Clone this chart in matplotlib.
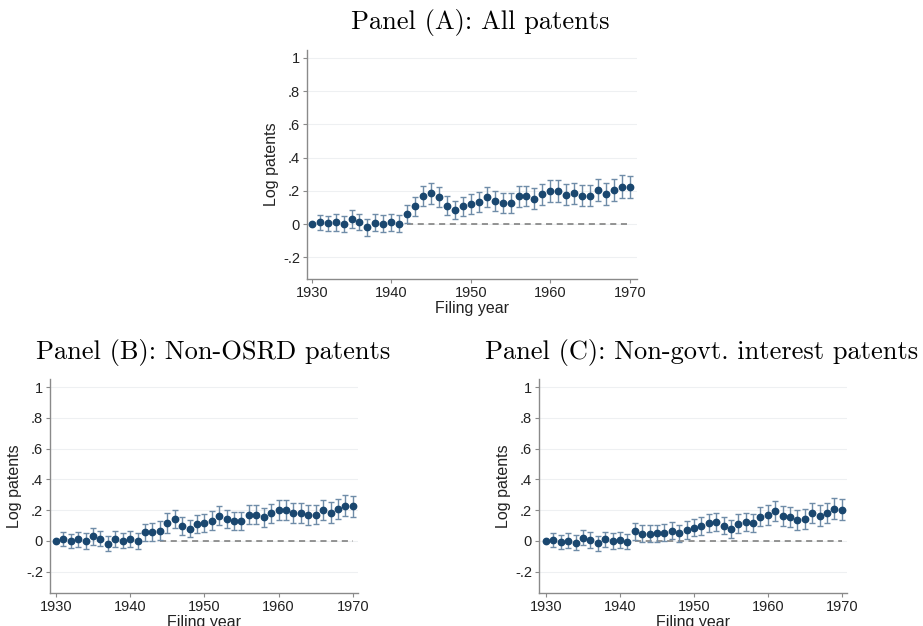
import numpy as np
import matplotlib
matplotlib.use("Agg")
import matplotlib.pyplot as plt

years = np.arange(1930, 1971)

# Panel (A): All patents
coef_a = [0.000, 0.010, 0.005, 0.010, 0.000, 0.032, 0.012, -0.020, 0.008, 0.002,
          0.010, 0.002, 0.060, 0.107, 0.170, 0.185, 0.160, 0.110, 0.085, 0.107,
          0.119, 0.131, 0.163, 0.139, 0.125, 0.129, 0.167, 0.169, 0.151, 0.180,
          0.200, 0.200, 0.177, 0.185, 0.171, 0.171, 0.203, 0.183, 0.205, 0.225,
          0.223]
# Panel (B): Non-OSRD patents
coef_b = [0.000, 0.011, 0.000, 0.011, 0.000, 0.032, 0.015, -0.017, 0.013, 0.002,
          0.013, 0.000, 0.056, 0.056, 0.067, 0.117, 0.143, 0.097, 0.080, 0.110,
          0.117, 0.132, 0.165, 0.143, 0.128, 0.130, 0.169, 0.169, 0.154, 0.180,
          0.200, 0.200, 0.180, 0.184, 0.169, 0.171, 0.203, 0.184, 0.208, 0.229,
          0.225]
# Panel (C): Non-govt. interest patents
coef_c = [0.000, 0.004, -0.009, 0.002, -0.011, 0.022, 0.006, -0.015, 0.011, 0.000,
          0.006, -0.004, 0.063, 0.048, 0.048, 0.050, 0.052, 0.065, 0.050, 0.071,
          0.087, 0.097, 0.117, 0.123, 0.100, 0.078, 0.113, 0.123, 0.117, 0.156,
          0.169, 0.197, 0.162, 0.156, 0.136, 0.143, 0.182, 0.165, 0.182, 0.208,
          0.203]

# half-widths of the confidence intervals
err_a = [0.000, 0.045, 0.045, 0.050, 0.050, 0.055, 0.050, 0.050, 0.050, 0.050,
         0.050, 0.050, 0.056, 0.058, 0.060, 0.064, 0.060, 0.058, 0.055, 0.058,
         0.060, 0.060, 0.062, 0.060, 0.060, 0.060, 0.062, 0.062, 0.063, 0.063,
         0.065, 0.065, 0.064, 0.065, 0.064, 0.064, 0.066, 0.066, 0.066, 0.068,
         0.068]
err_b = err_a
err_c = [0.000, 0.045, 0.045, 0.050, 0.050, 0.050, 0.050, 0.050, 0.050, 0.050,
         0.050, 0.050, 0.055, 0.055, 0.055, 0.055, 0.055, 0.055, 0.055, 0.056,
         0.058, 0.058, 0.060, 0.058, 0.058, 0.058, 0.060, 0.060, 0.060, 0.062,
         0.064, 0.065, 0.064, 0.064, 0.064, 0.064, 0.066, 0.066, 0.066, 0.068,
         0.068]

titles = ["Panel (A): All patents",
          "Panel (B): Non-OSRD patents",
          "Panel (C): Non-govt. interest patents"]
yticks = [-0.2, 0, 0.2, 0.4, 0.6, 0.8, 1]
ytick_labels = ["-.2", "0", ".2", ".4", ".6", ".8", "1"]
xticks = [1930, 1940, 1950, 1960, 1970]

W, H = 923, 626
plt.rcParams["font.family"] = ["Liberation Sans", "DejaVu Sans"]
fig = plt.figure(figsize=(W / 100, H / 100), dpi=100)
fig.patch.set_facecolor("white")


def px_axes(left, top, right, bottom):
    return fig.add_axes([left / W, 1 - bottom / H, (right - left) / W, (bottom - top) / H])


def draw_panel(ax, coef, err, xlim, ylim, dash_start):
    ax.set_xlim(*xlim)
    ax.set_ylim(*ylim)
    for t in yticks:
        ax.axhline(t, color="#eef0f2", lw=0.8, zorder=0)
    ax.plot([dash_start, 1970], [0, 0], ls=(0, (4, 3)), color="#777777", lw=1.1, zorder=1)
    ax.errorbar(years, coef, yerr=err, fmt="none", ecolor="#6f8ca8", elinewidth=1.0,
                capsize=2.5, capthick=1.0, zorder=2)
    ax.plot(years, coef, "o", color="#1a476f", ms=4.6, zorder=3)
    ax.set_yticks(yticks)
    ax.set_yticklabels(ytick_labels)
    ax.set_xticks(xticks)
    for s in ["top", "right"]:
        ax.spines[s].set_visible(False)
    for s in ["left", "bottom"]:
        ax.spines[s].set_color("#8a8a8a")
        ax.spines[s].set_linewidth(1.0)
    ax.tick_params(axis="both", colors="#8a8a8a", labelcolor="#222222", labelsize=10.5,
                   length=3, width=0.8, pad=2)
    ax.set_ylabel("Log patents", fontsize=11.5, color="#222222", labelpad=3)
    ax.set_xlabel("Filing year", fontsize=11.5, color="#222222", labelpad=1)


ax_a = px_axes(307, 50, 637, 279)
draw_panel(ax_a, coef_a, err_a, (1929.4, 1970.9), (-0.331, 1.048), 1942)
ax_b = px_axes(50, 379, 358, 593)
draw_panel(ax_b, coef_b, err_b, (1929.2, 1970.7), (-0.338, 1.052), 1944)
ax_c = px_axes(539, 379, 847, 593)
draw_panel(ax_c, coef_c, err_c, (1929.05, 1970.7), (-0.338, 1.052), 1942)

title_kw = dict(fontsize=19, family="cmr10", ha="center", va="center", color="black")
fig.text(480 / W, 1 - 22 / H, titles[0], **title_kw)
fig.text(213 / W, 1 - 352 / H, titles[1], **title_kw)
fig.text(702 / W, 1 - 352 / H, titles[2], **title_kw)

fig.savefig("out.png", dpi=100)
